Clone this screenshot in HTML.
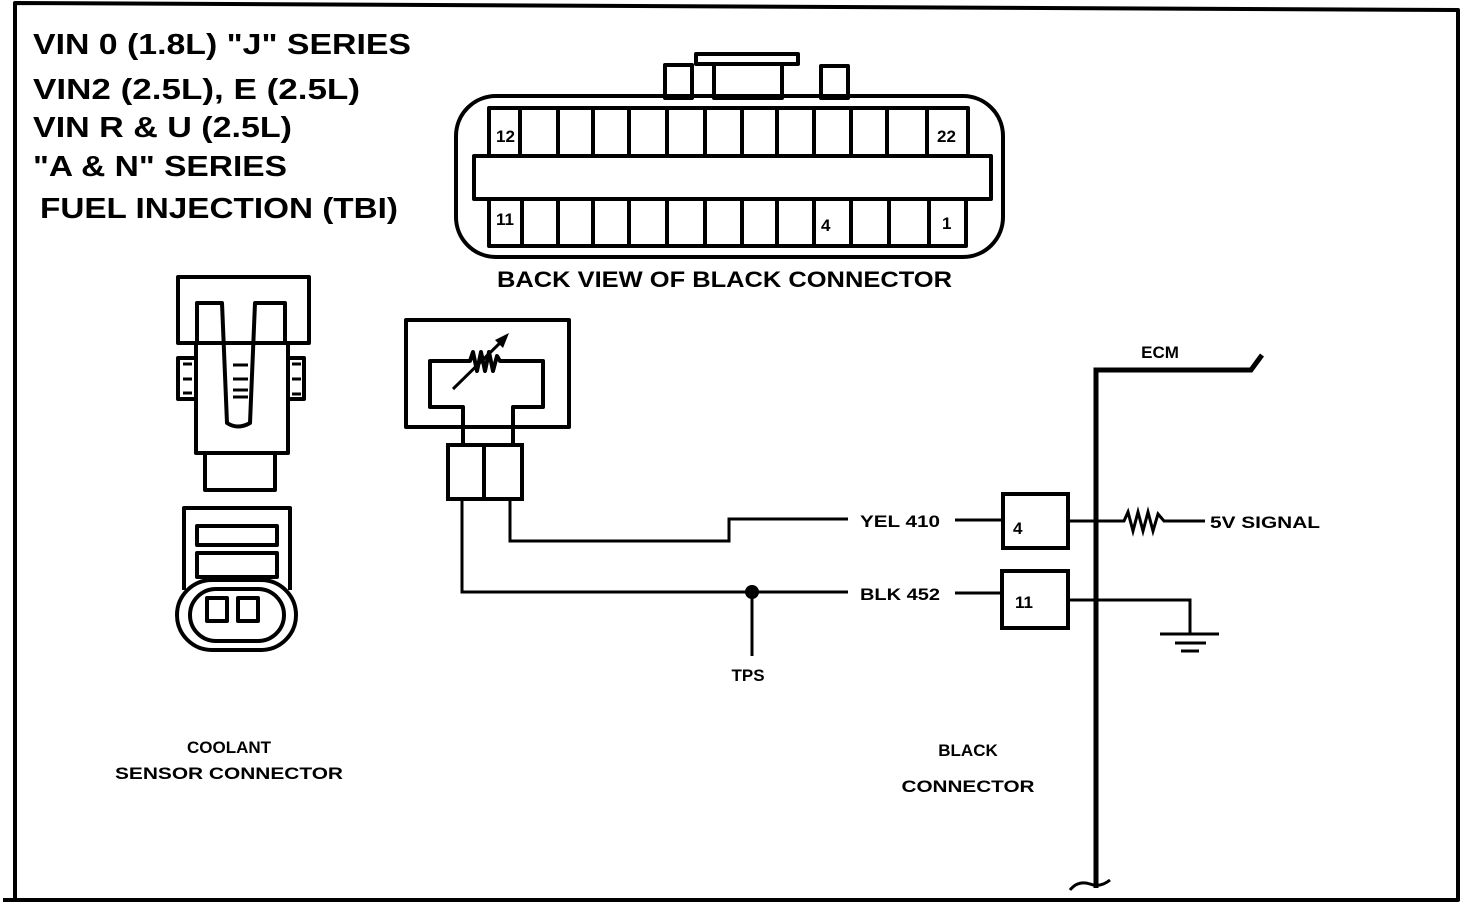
<!DOCTYPE html>
<html><head><meta charset="utf-8"><style>
html,body{margin:0;padding:0;background:#fff;}
svg{display:block;}
text{font-family:"Liberation Sans",Arial,sans-serif;font-weight:bold;fill:#000;}
</style></head><body>
<svg width="1472" height="916" viewBox="0 0 1472 916" xmlns="http://www.w3.org/2000/svg">
<g fill="none" stroke="#000" stroke-linejoin="round">
<!-- frame -->
<path d="M15,900 L15,3 L1458,10 L1458,900 L3,900" stroke-width="4"/>

<!-- title -->
</g>
<g font-size="29">
<text x="33" y="54" textLength="378" lengthAdjust="spacingAndGlyphs">VIN 0 (1.8L) "J" SERIES</text>
<text x="33" y="99" textLength="327" lengthAdjust="spacingAndGlyphs">VIN2 (2.5L), E (2.5L)</text>
<text x="33" y="137" textLength="259" lengthAdjust="spacingAndGlyphs">VIN R &amp; U (2.5L)</text>
<text x="33" y="176" textLength="254" lengthAdjust="spacingAndGlyphs">"A &amp; N" SERIES</text>
<text x="40" y="218" textLength="358" lengthAdjust="spacingAndGlyphs">FUEL INJECTION (TBI)</text>
</g>

<g fill="none" stroke="#000" stroke-linejoin="round">
<!-- black connector -->
<rect x="456" y="96" width="547" height="161" rx="40" stroke-width="4"/>
<rect x="665" y="65" width="27" height="33" stroke-width="4"/>
<rect x="821" y="66" width="27" height="32" stroke-width="4"/>
<rect x="696" y="54" width="102" height="10" stroke-width="4"/>
<rect x="714" y="64" width="68" height="34" stroke-width="4"/>
<rect x="474" y="156" width="517" height="43" stroke-width="4"/>
<path d="M489,156 L489,108 L968,108 L968,156" stroke-width="4"/>
<path d="M489,199 L489,246 L966,246 L966,199" stroke-width="4"/>
<g stroke-width="4">
<line x1="520" y1="108" x2="520" y2="156"/><line x1="558" y1="108" x2="558" y2="156"/>
<line x1="593" y1="108" x2="593" y2="156"/><line x1="629" y1="108" x2="629" y2="156"/>
<line x1="667" y1="108" x2="667" y2="156"/><line x1="705" y1="108" x2="705" y2="156"/>
<line x1="742" y1="108" x2="742" y2="156"/><line x1="777" y1="108" x2="777" y2="156"/>
<line x1="814" y1="108" x2="814" y2="156"/><line x1="851" y1="108" x2="851" y2="156"/>
<line x1="887" y1="108" x2="887" y2="156"/><line x1="927" y1="108" x2="927" y2="156"/>
<line x1="522" y1="199" x2="522" y2="246"/><line x1="558" y1="199" x2="558" y2="246"/>
<line x1="593" y1="199" x2="593" y2="246"/><line x1="629" y1="199" x2="629" y2="246"/>
<line x1="667" y1="199" x2="667" y2="246"/><line x1="705" y1="199" x2="705" y2="246"/>
<line x1="742" y1="199" x2="742" y2="246"/><line x1="777" y1="199" x2="777" y2="246"/>
<line x1="814" y1="199" x2="814" y2="246"/><line x1="851" y1="199" x2="851" y2="246"/>
<line x1="889" y1="199" x2="889" y2="246"/><line x1="929" y1="199" x2="929" y2="246"/>
</g>
</g>
<g font-size="17">
<text x="496" y="142">12</text>
<text x="937" y="142">22</text>
<text x="496" y="225">11</text>
<text x="821" y="231">4</text>
<text x="942" y="229">1</text>
</g>
<text x="497" y="287" font-size="22" textLength="455" lengthAdjust="spacingAndGlyphs">BACK VIEW OF BLACK CONNECTOR</text>

<!-- coolant sensor -->
<g fill="none" stroke="#000" stroke-width="4" stroke-linejoin="round">
<rect x="178" y="277" width="131" height="66"/>
<rect x="196" y="343" width="92" height="110"/>
<rect x="205" y="453" width="70" height="37"/>
<path d="M197,343 L197,303 L222,303 L227,423 Q238,430 250,423 L255,303 L285,303 L285,343"/>
<rect x="178" y="358" width="18" height="41"/>
<rect x="288" y="358" width="16" height="41"/>
<g stroke-width="3">
<line x1="183" y1="364" x2="192" y2="364"/><line x1="183" y1="379" x2="192" y2="379"/><line x1="183" y1="393" x2="192" y2="393"/>
<line x1="292" y1="364" x2="301" y2="364"/><line x1="292" y1="379" x2="301" y2="379"/><line x1="292" y1="394" x2="301" y2="394"/>
<line x1="233" y1="365" x2="248" y2="365"/><line x1="233" y1="379" x2="248" y2="379"/><line x1="233" y1="390" x2="248" y2="390"/><line x1="233" y1="397" x2="248" y2="397"/>
</g>
<path d="M184,590 L184,508 L290,508 L290,590"/>
<rect x="197" y="526" width="80" height="19"/>
<rect x="197" y="553" width="80" height="24"/>
<rect x="177" y="580" width="119" height="70" rx="35"/>
<rect x="190" y="589" width="94" height="52" rx="26"/>
<rect x="207" y="598" width="20" height="23"/>
<rect x="238" y="598" width="20" height="23"/>
</g>
<text x="229" y="753" font-size="17" text-anchor="middle">COOLANT</text>
<text x="229" y="779" font-size="17" text-anchor="middle" textLength="228" lengthAdjust="spacingAndGlyphs">SENSOR CONNECTOR</text>

<!-- TPS -->
<g fill="none" stroke="#000" stroke-width="4" stroke-linejoin="round">
<rect x="406" y="320" width="163" height="107"/>
<path d="M463,444 L463,407 L430,407 L430,361 L470,361 L473,352 L477,371 L481,352 L485,371 L489,352 L493,371 L497,356 L500,361 L543,361 L543,407 L513,407 L513,444"/>
<line x1="453" y1="389" x2="503" y2="340" stroke-width="3"/>
</g>
<polygon points="509,333 495,340 503,348" fill="#000"/>
<g fill="none" stroke="#000" stroke-width="4">
<rect x="448" y="445" width="36" height="54"/>
<rect x="484" y="445" width="38" height="54"/>
</g>
<g fill="none" stroke="#000" stroke-width="3">
<path d="M462,499 L462,592 L848,592"/>
<path d="M510,499 L510,541 L729,541 L729,519 L848,519"/>
<line x1="752" y1="592" x2="752" y2="656"/>
<line x1="955" y1="520" x2="1002" y2="520"/>
<line x1="955" y1="593" x2="1002" y2="593"/>
</g>
<circle cx="752" cy="592" r="7" fill="#000"/>
<text x="860" y="527" font-size="17" textLength="80" lengthAdjust="spacingAndGlyphs">YEL 410</text>
<text x="860" y="600" font-size="17" textLength="80" lengthAdjust="spacingAndGlyphs">BLK 452</text>
<text x="748" y="681" font-size="17" text-anchor="middle">TPS</text>

<!-- ECM side -->
<g fill="none" stroke="#000" stroke-width="4">
<rect x="1003" y="494" width="65" height="54"/>
<rect x="1002" y="571" width="66" height="57"/>
</g>
<text x="1013" y="534" font-size="17">4</text>
<text x="1015" y="608" font-size="17">11</text>
<g fill="none" stroke="#000">
<path d="M1096,888 L1096,370 L1251,370 L1262,355" stroke-width="5"/>
<path d="M1070,890 Q1078,880 1090,884 Q1100,888 1110,880" stroke-width="3"/>
<path d="M1068,521 L1124,521 L1128,512 L1133,531 L1138,512 L1143,531 L1148,512 L1153,531 L1158,514 L1164,521 L1205,521" stroke-width="3"/>
<path d="M1068,600 L1190,600 L1190,634" stroke-width="3"/>
<line x1="1160" y1="634" x2="1219" y2="634" stroke-width="3"/>
<line x1="1175" y1="643" x2="1206" y2="643" stroke-width="3"/>
<line x1="1181" y1="651" x2="1199" y2="651" stroke-width="3"/>
</g>
<text x="1160" y="358" font-size="17" text-anchor="middle">ECM</text>
<text x="1210" y="528" font-size="17" textLength="110" lengthAdjust="spacingAndGlyphs">5V SIGNAL</text>
<text x="968" y="756" font-size="17" text-anchor="middle">BLACK</text>
<text x="968" y="792" font-size="17" text-anchor="middle" textLength="133" lengthAdjust="spacingAndGlyphs">CONNECTOR</text>
</svg>
</body></html>
